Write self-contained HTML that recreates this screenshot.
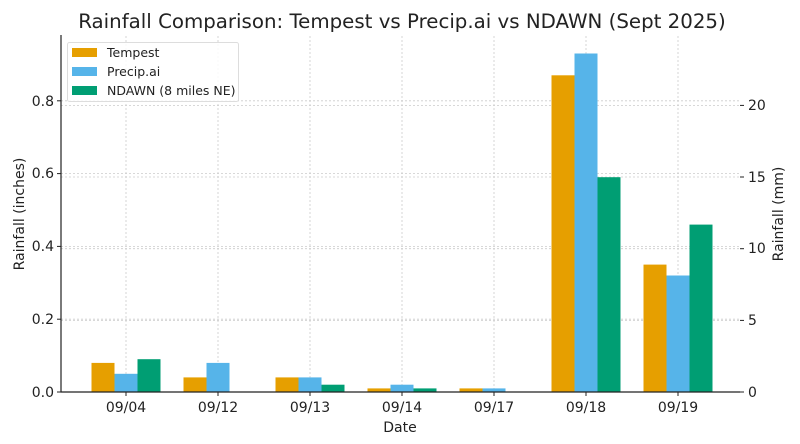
<!DOCTYPE html>
<html><head><meta charset="utf-8"><style>
html,body{margin:0;padding:0;background:#fff;}
svg{display:block;font-family:"DejaVu Sans","Liberation Sans",sans-serif;}
</style></head><body>
<svg width="800" height="444" viewBox="0 0 800 444" xmlns="http://www.w3.org/2000/svg">
<rect width="800" height="444" fill="#fff"/>
<text x="402" y="28" font-size="19.8" text-anchor="middle" fill="#222">Rainfall Comparison: Tempest vs Precip.ai vs NDAWN (Sept 2025)</text>
<g stroke="#ccc" stroke-width="0.8" stroke-dasharray="2,2">
<line x1="61" x2="740" y1="319.2" y2="319.2"/>
<line x1="61" x2="740" y1="246.4" y2="246.4"/>
<line x1="61" x2="740" y1="173.6" y2="173.6"/>
<line x1="61" x2="740" y1="100.8" y2="100.8"/>
<line x1="61" x2="740" y1="320.4" y2="320.4"/>
<line x1="61" x2="740" y1="248.7" y2="248.7"/>
<line x1="61" x2="740" y1="177.0" y2="177.0"/>
<line x1="61" x2="740" y1="105.4" y2="105.4"/>
<line x1="126" x2="126" y1="36" y2="392"/>
<line x1="218" x2="218" y1="36" y2="392"/>
<line x1="310" x2="310" y1="36" y2="392"/>
<line x1="402" x2="402" y1="36" y2="392"/>
<line x1="494" x2="494" y1="36" y2="392"/>
<line x1="586" x2="586" y1="36" y2="392"/>
<line x1="678" x2="678" y1="36" y2="392"/>
</g>
<g fill="#E69F00">
<rect x="91.5" y="362.9" width="23" height="29.1"/>
<rect x="183.5" y="377.4" width="23" height="14.6"/>
<rect x="275.5" y="377.4" width="23" height="14.6"/>
<rect x="367.5" y="388.4" width="23" height="3.6"/>
<rect x="459.5" y="388.4" width="23" height="3.6"/>
<rect x="551.5" y="75.3" width="23" height="316.7"/>
<rect x="643.5" y="264.6" width="23" height="127.4"/>
</g>
<g fill="#56B4E9">
<rect x="114.5" y="373.8" width="23" height="18.2"/>
<rect x="206.5" y="362.9" width="23" height="29.1"/>
<rect x="298.5" y="377.4" width="23" height="14.6"/>
<rect x="390.5" y="384.7" width="23" height="7.3"/>
<rect x="482.5" y="388.4" width="23" height="3.6"/>
<rect x="574.5" y="53.5" width="23" height="338.5"/>
<rect x="666.5" y="275.5" width="23" height="116.5"/>
</g>
<g fill="#009E73">
<rect x="137.5" y="359.2" width="23" height="32.8"/>
<rect x="321.5" y="384.7" width="23" height="7.3"/>
<rect x="413.5" y="388.4" width="23" height="3.6"/>
<rect x="597.5" y="177.2" width="23" height="214.8"/>
<rect x="689.5" y="224.6" width="23" height="167.4"/>
</g>
<line x1="61" x2="61" y1="35" y2="392.5" stroke="#222" stroke-width="1.2"/>
<line x1="60.5" x2="740" y1="392" y2="392" stroke="#222" stroke-width="1.2"/>
<g stroke="#222" stroke-width="1">
<line x1="57" x2="61" y1="392" y2="392"/><line x1="57" x2="61" y1="319.2" y2="319.2"/><line x1="57" x2="61" y1="246.4" y2="246.4"/><line x1="57" x2="61" y1="173.6" y2="173.6"/><line x1="57" x2="61" y1="100.8" y2="100.8"/>
<line x1="740" x2="744" y1="392" y2="392"/><line x1="740" x2="744" y1="320.4" y2="320.4"/><line x1="740" x2="744" y1="248.7" y2="248.7"/><line x1="740" x2="744" y1="177" y2="177"/><line x1="740" x2="744" y1="105.4" y2="105.4"/>
<line x1="126" x2="126" y1="392" y2="396"/><line x1="218" x2="218" y1="392" y2="396"/><line x1="310" x2="310" y1="392" y2="396"/><line x1="402" x2="402" y1="392" y2="396"/><line x1="494" x2="494" y1="392" y2="396"/><line x1="586" x2="586" y1="392" y2="396"/><line x1="678" x2="678" y1="392" y2="396"/>
</g>
<g font-size="14" fill="#222" text-anchor="end">
<text x="54" y="397">0.0</text><text x="54" y="324">0.2</text><text x="54" y="251">0.4</text><text x="54" y="178">0.6</text><text x="54" y="106">0.8</text>
</g>
<g font-size="14" fill="#222" text-anchor="start">
<text x="748" y="397">0</text><text x="748" y="325">5</text><text x="748" y="253">10</text><text x="748" y="182">15</text><text x="748" y="110">20</text>
</g>
<g font-size="14" fill="#222" text-anchor="middle">
<text x="126" y="412">09/04</text><text x="218" y="412">09/12</text><text x="310" y="412">09/13</text><text x="402" y="412">09/14</text><text x="494" y="412">09/17</text><text x="586" y="412">09/18</text><text x="678" y="412">09/19</text>
<text x="400" y="432">Date</text>
</g>
<text transform="translate(24,214) rotate(-90)" font-size="14" fill="#222" text-anchor="middle">Rainfall (inches)</text>
<text transform="translate(783,214) rotate(-90)" font-size="14" fill="#222" text-anchor="middle">Rainfall (mm)</text>
<rect x="67.5" y="42.5" width="171" height="59" rx="2" fill="#fff" fill-opacity="0.85" stroke="#ddd"/>
<rect x="72" y="48" width="25" height="9" fill="#E69F00"/>
<rect x="72" y="67" width="25" height="9" fill="#56B4E9"/>
<rect x="72" y="86" width="25" height="9" fill="#009E73"/>
<g font-size="12.5" fill="#222">
<text x="107" y="57">Tempest</text><text x="107" y="76">Precip.ai</text><text x="107" y="95">NDAWN (8 miles NE)</text>
</g>
</svg>
</body></html>
